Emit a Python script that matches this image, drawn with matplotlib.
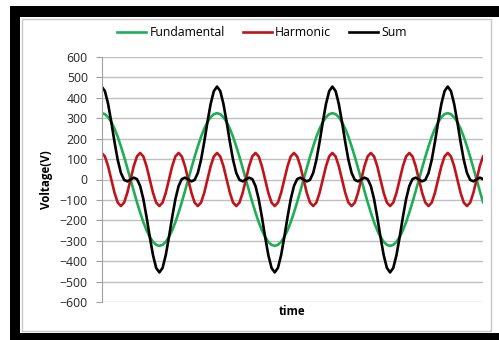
import numpy as np
import matplotlib
matplotlib.use("Agg")
import matplotlib.pyplot as plt
from matplotlib.patches import Rectangle

plt.rcParams['font.family'] = ['Open Sans', 'DejaVu Sans']

# samples every 10 degrees of the fundamental (50 Hz phase), 120 points
fundamental = [
    325, 320, 305, 281, 249, 209, 162, 111, 56, 0, -56, -111,
    -162, -209, -249, -281, -305, -320, -325, -320, -305, -281, -249, -209,
    -162, -111, -56, 0, 56, 111, 162, 209, 249, 281, 305, 320,
    325, 320, 305, 281, 249, 209, 162, 111, 56, 0, -56, -111,
    -162, -209, -249, -281, -305, -320, -325, -320, -305, -281, -249, -209,
    -162, -111, -56, 0, 56, 111, 162, 209, 249, 281, 305, 320,
    325, 320, 305, 281, 249, 209, 162, 111, 56, 0, -56, -111,
    -162, -209, -249, -281, -305, -320, -325, -320, -305, -281, -249, -209,
    -162, -111, -56, 0, 56, 111, 162, 209, 249, 281, 305, 320,
    325, 320, 305, 281, 249, 209, 162, 111, 56, 0, -56, -111,
]
harmonic = [
    130, 113, 65, 0, -65, -113, -130, -113, -65, 0, 65, 113,
    130, 113, 65, 0, -65, -113, -130, -113, -65, 0, 65, 113,
    130, 113, 65, 0, -65, -113, -130, -113, -65, 0, 65, 113,
    130, 113, 65, 0, -65, -113, -130, -113, -65, 0, 65, 113,
    130, 113, 65, 0, -65, -113, -130, -113, -65, 0, 65, 113,
    130, 113, 65, 0, -65, -113, -130, -113, -65, 0, 65, 113,
    130, 113, 65, 0, -65, -113, -130, -113, -65, 0, 65, 113,
    130, 113, 65, 0, -65, -113, -130, -113, -65, 0, 65, 113,
    130, 113, 65, 0, -65, -113, -130, -113, -65, 0, 65, 113,
    130, 113, 65, 0, -65, -113, -130, -113, -65, 0, 65, 113,
]
y_ticks = [-600, -500, -400, -300, -200, -100, 0, 100, 200, 300, 400, 500, 600]

total = np.array(fundamental) + np.array(harmonic)
t = np.arange(len(fundamental))

W, H = 499, 340
fig = plt.figure(figsize=(W / 100, H / 100), dpi=100)


def frame_bar(x0, y0, x1, y1, **kw):
    # rectangle given in pixels from the top-left corner
    fig.patches.append(Rectangle((x0 / W, 1 - y1 / H), (x1 - x0) / W, (y1 - y0) / H,
                                 transform=fig.transFigure, **kw))


# black frame on top, left and bottom, thin grey border inside
frame_bar(10, 6, W + 5, 17, color="black", lw=0)
frame_bar(10, 6, 20, H + 5, color="black", lw=0)
frame_bar(10, 333, W + 5, H + 5, color="black", lw=0)
frame_bar(21.5, 18.5, 490.5, 331, fill=False, edgecolor="#c8c8c8", lw=1.0)

ax = fig.add_axes([101.7 / W, 1 - 302 / H, (483 - 101.7) / W, 245 / H])
ax.set_zorder(2)
ax.set_facecolor("none")

for y, color, name in [(fundamental, "#1fae55", "Fundamental"),
                       (harmonic, "#c0141c", "Harmonic"),
                       (total, "black", "Sum")]:
    ax.plot(t, y, color=color, lw=1.9, label=name, solid_joinstyle="round")

ax.set_xlim(t[0], t[-1])
ax.set_ylim(-600, 600)
ax.set_yticks(y_ticks)
ax.set_xticks([])
ax.tick_params(axis="y", labelsize=8.8, length=4, color="#a0a0a0", pad=6,
               labelcolor="#262626")
ax.grid(axis="y", color="#c0c0c0", lw=1.0)
ax.set_axisbelow(True)
for side in ["top", "right", "bottom"]:
    ax.spines[side].set_visible(False)
ax.spines["left"].set_color("#a0a0a0")

ax.set_ylabel("Voltage(V)", fontsize=8.3, fontweight="bold", labelpad=5)
ax.set_xlabel("time", fontsize=8.3, fontweight="bold", labelpad=2)

ax.legend(loc="center", bbox_to_anchor=(0.42, 1.098), ncol=3, frameon=False,
          fontsize=8.8, handlelength=2.4, handletextpad=0.25, columnspacing=1.45)

fig.savefig("out.png", dpi=100)
